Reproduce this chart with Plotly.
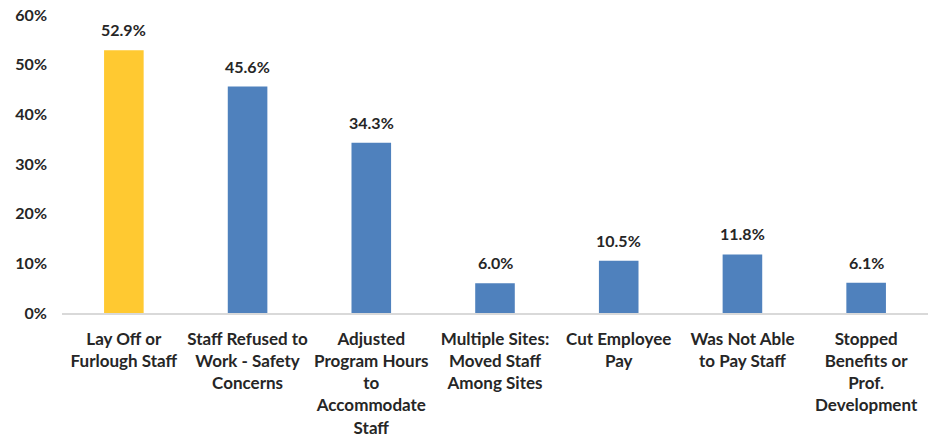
import plotly.graph_objects as go

categories = [
    "Lay Off or<br>Furlough Staff",
    "Staff Refused to<br>Work - Safety<br>Concerns",
    "Adjusted<br>Program Hours<br>to<br>Accommodate<br>Staff",
    "Multiple Sites:<br>Moved Staff<br>Among Sites",
    "Cut Employee<br>Pay",
    "Was Not Able<br>to Pay Staff",
    "Stopped<br>Benefits or<br>Prof.<br>Development",
]
values = [0.529, 0.456, 0.343, 0.060, 0.105, 0.118, 0.061]
colors = ["#FFC931", "#4F81BD", "#4F81BD", "#4F81BD", "#4F81BD", "#4F81BD", "#4F81BD"]
y_ticks = [0, 0.1, 0.2, 0.3, 0.4, 0.5, 0.6]

FONT = "Lato"
TXT = "#262626"

fig = go.Figure(
    go.Bar(
        x=categories,
        y=values,
        marker=dict(color=colors, line=dict(width=0)),
        width=0.32,
        cliponaxis=False,
    )
)

for c, v in zip(categories, values):
    fig.add_annotation(
        x=c, y=v, text=f"{v*100:.1f}%", showarrow=False,
        yanchor="bottom", yshift=9,
        font=dict(family=FONT, size=16, color=TXT, weight="bold"),
    )

fig.update_layout(
    width=928,
    height=440,
    margin=dict(l=62, r=0, t=15, b=127),
    paper_bgcolor="white",
    plot_bgcolor="white",
    font=dict(family=FONT, size=16, color=TXT, weight="bold"),
    showlegend=False,
)
fig.update_xaxes(
    showline=True,
    linecolor="#D9D9D9",
    linewidth=1.5,
    showgrid=False,
    ticks="",
    ticklabelstandoff=10,
    ticklabeloverflow="allow",
    tickfont=dict(family=FONT, size=17, color=TXT, weight="bold"),
    tickangle=0,
    automargin=False,
)
fig.update_yaxes(
    range=[0, 0.6],
    tickvals=y_ticks,
    tickformat=".0%",
    showgrid=False,
    zeroline=False,
    showline=False,
    ticks="",
    ticklabelstandoff=14,
    ticklabeloverflow="allow",
    tickfont=dict(family=FONT, size=16, color=TXT, weight="bold"),
    automargin=False,
)

fig.write_html(
    "out.html",
    config={"displayModeBar": False},
    post_script="document.body.style.margin='0';document.body.style.overflow='hidden';",
)
